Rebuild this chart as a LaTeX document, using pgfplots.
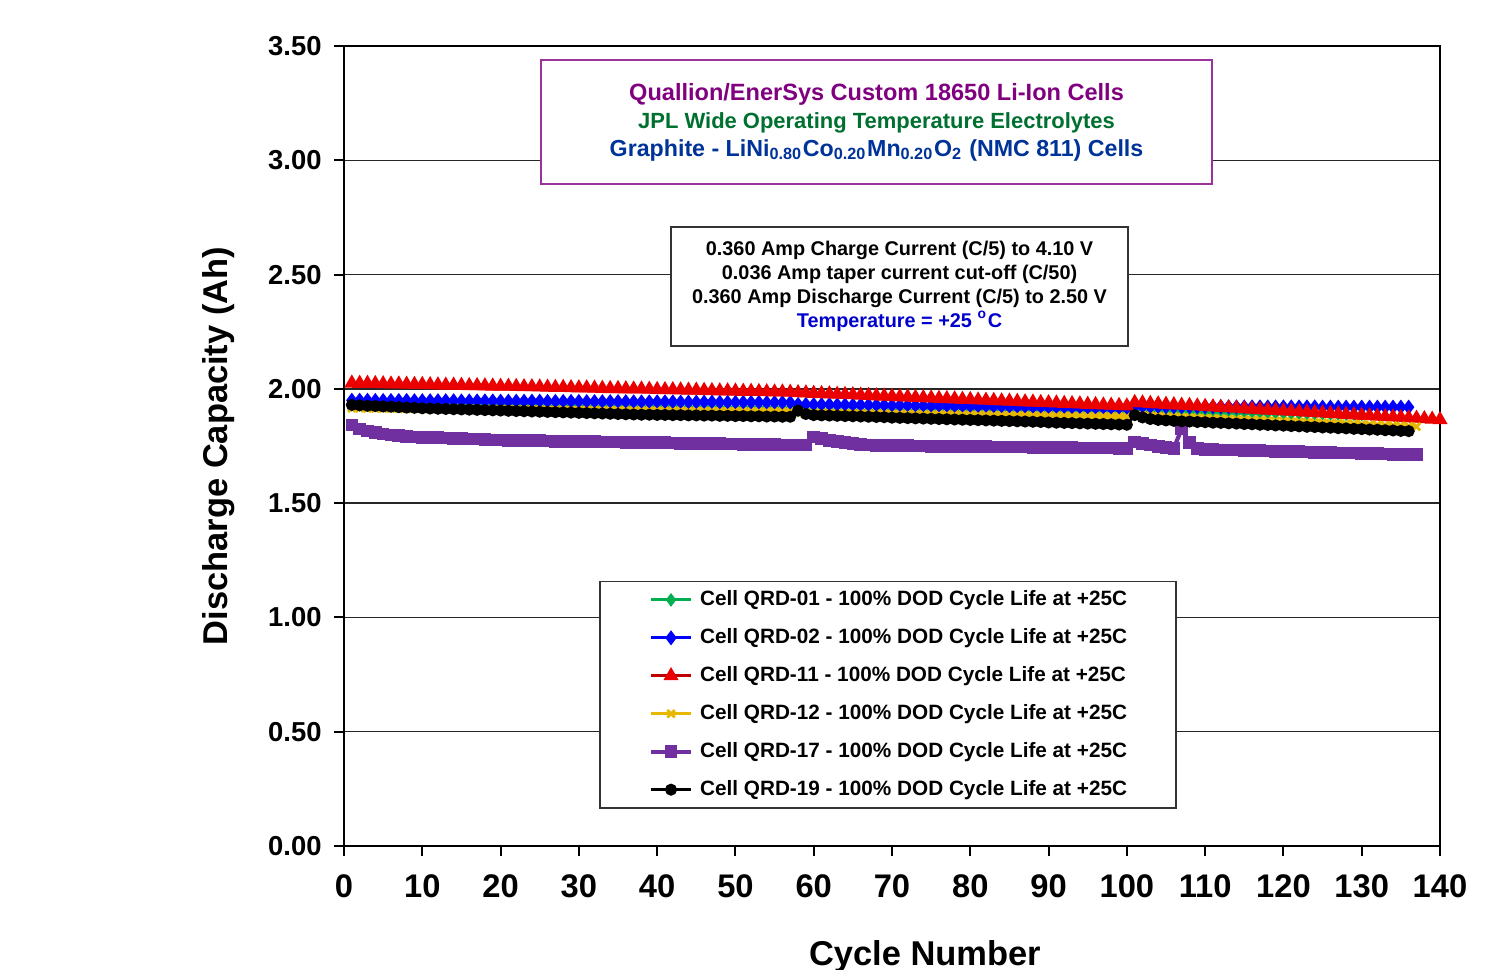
\documentclass[border=0pt]{standalone}
\usepackage{fontspec}
\setmainfont{Liberation Sans}
\usepackage{pgfplots}
\pgfplotsset{compat=1.18}
\usepackage{pgfplotstable}

\definecolor{cgreen}{RGB}{0,176,80}
\definecolor{cblue}{RGB}{0,0,255}
\definecolor{cred}{RGB}{235,0,0}
\definecolor{cdred}{RGB}{192,0,0}
\definecolor{cyellow}{RGB}{230,184,0}
\definecolor{cpurple}{RGB}{112,48,160}
\definecolor{tpurple}{RGB}{128,0,128}
\definecolor{tgreen}{RGB}{0,112,48}
\definecolor{tblue}{RGB}{0,51,153}
\definecolor{tbox}{RGB}{153,51,153}
\definecolor{ttemp}{RGB}{0,0,204}

% cycle, QRD-01, QRD-02, QRD-11, QRD-12, QRD-17, QRD-19
\pgfplotstableread{
x G B R Y P K
1 1.930 1.950 2.025 1.915 1.842 1.930
2 1.930 1.950 2.024 1.915 1.825 1.928
3 1.929 1.950 2.024 1.914 1.815 1.926
4 1.929 1.949 2.023 1.914 1.808 1.925
5 1.929 1.949 2.022 1.914 1.802 1.923
6 1.929 1.949 2.021 1.914 1.798 1.922
7 1.928 1.949 2.021 1.913 1.795 1.920
8 1.928 1.949 2.020 1.913 1.792 1.918
9 1.928 1.948 2.019 1.913 1.790 1.917
10 1.928 1.948 2.019 1.913 1.788 1.915
11 1.927 1.948 2.018 1.912 1.787 1.914
12 1.927 1.948 2.017 1.912 1.786 1.913
13 1.927 1.948 2.016 1.912 1.785 1.912
14 1.927 1.948 2.016 1.912 1.783 1.911
15 1.926 1.947 2.015 1.911 1.782 1.910
16 1.926 1.947 2.014 1.911 1.781 1.909
17 1.926 1.947 2.014 1.911 1.780 1.908
18 1.925 1.947 2.013 1.910 1.779 1.907
19 1.925 1.947 2.012 1.910 1.777 1.906
20 1.925 1.946 2.011 1.910 1.776 1.905
21 1.925 1.946 2.011 1.910 1.775 1.904
22 1.924 1.946 2.010 1.909 1.774 1.903
23 1.924 1.946 2.009 1.909 1.774 1.902
24 1.924 1.946 2.009 1.909 1.773 1.901
25 1.924 1.946 2.008 1.909 1.773 1.900
26 1.923 1.945 2.007 1.908 1.772 1.899
27 1.923 1.945 2.006 1.908 1.771 1.898
28 1.923 1.945 2.006 1.908 1.771 1.897
29 1.922 1.945 2.005 1.907 1.770 1.896
30 1.922 1.945 2.004 1.907 1.770 1.895
31 1.922 1.944 2.004 1.907 1.769 1.894
32 1.922 1.944 2.003 1.907 1.769 1.893
33 1.921 1.944 2.002 1.906 1.768 1.892
34 1.921 1.944 2.001 1.906 1.767 1.891
35 1.921 1.944 2.001 1.906 1.767 1.890
36 1.921 1.944 2.000 1.906 1.766 1.889
37 1.920 1.943 1.999 1.905 1.766 1.888
38 1.920 1.943 1.999 1.905 1.765 1.887
39 1.920 1.943 1.998 1.905 1.765 1.887
40 1.920 1.943 1.997 1.905 1.764 1.886
41 1.919 1.943 1.996 1.904 1.764 1.886
42 1.919 1.943 1.996 1.904 1.763 1.885
43 1.919 1.942 1.995 1.904 1.762 1.885
44 1.918 1.942 1.994 1.903 1.762 1.884
45 1.918 1.942 1.994 1.903 1.761 1.884
46 1.918 1.942 1.993 1.903 1.761 1.883
47 1.918 1.942 1.992 1.903 1.760 1.883
48 1.917 1.941 1.991 1.902 1.760 1.882
49 1.917 1.941 1.991 1.902 1.759 1.882
50 1.917 1.941 1.990 1.902 1.759 1.881
51 1.917 1.941 1.989 1.902 1.758 1.881
52 1.916 1.941 1.989 1.901 1.757 1.880
53 1.916 1.941 1.988 1.901 1.757 1.880
54 1.916 1.940 1.987 1.901 1.756 1.879
55 1.916 1.940 1.986 1.901 1.756 1.879
56 1.915 1.940 1.986 1.900 1.755 1.878
57 1.915 1.940 1.985 1.900 1.755 1.878
58 1.905 1.932 1.983 1.895 1.755 1.905
59 1.905 1.932 1.982 1.895 1.755 1.890
60 1.905 1.931 1.980 1.894 1.790 1.885
61 1.905 1.931 1.979 1.894 1.783 1.884
62 1.905 1.931 1.978 1.894 1.775 1.883
63 1.905 1.930 1.976 1.893 1.770 1.882
64 1.904 1.930 1.975 1.893 1.766 1.881
65 1.904 1.929 1.974 1.892 1.762 1.880
66 1.904 1.929 1.972 1.892 1.758 1.879
67 1.904 1.929 1.971 1.892 1.755 1.878
68 1.904 1.928 1.969 1.891 1.752 1.877
69 1.904 1.928 1.968 1.891 1.752 1.876
70 1.903 1.927 1.967 1.890 1.751 1.874
71 1.903 1.927 1.965 1.890 1.751 1.873
72 1.903 1.927 1.964 1.890 1.751 1.872
73 1.903 1.926 1.962 1.889 1.750 1.871
74 1.903 1.926 1.961 1.889 1.750 1.870
75 1.903 1.925 1.960 1.888 1.749 1.869
76 1.902 1.925 1.958 1.888 1.749 1.868
77 1.902 1.925 1.957 1.888 1.749 1.867
78 1.902 1.924 1.956 1.887 1.748 1.866
79 1.902 1.924 1.954 1.887 1.748 1.865
80 1.902 1.923 1.953 1.886 1.748 1.864
81 1.902 1.923 1.951 1.886 1.747 1.863
82 1.901 1.923 1.950 1.886 1.747 1.862
83 1.901 1.922 1.949 1.885 1.746 1.861
84 1.901 1.922 1.947 1.885 1.746 1.860
85 1.901 1.921 1.946 1.884 1.746 1.859
86 1.901 1.921 1.945 1.884 1.745 1.858
87 1.901 1.921 1.943 1.884 1.745 1.857
88 1.900 1.920 1.942 1.883 1.744 1.856
89 1.900 1.920 1.940 1.883 1.744 1.855
90 1.900 1.919 1.939 1.882 1.744 1.853
91 1.900 1.919 1.938 1.882 1.743 1.852
92 1.900 1.919 1.936 1.882 1.743 1.851
93 1.900 1.918 1.935 1.881 1.743 1.850
94 1.899 1.918 1.934 1.881 1.742 1.849
95 1.899 1.917 1.932 1.880 1.742 1.848
96 1.899 1.917 1.931 1.880 1.741 1.847
97 1.899 1.917 1.929 1.880 1.741 1.846
98 1.899 1.916 1.928 1.879 1.741 1.845
99 1.899 1.916 1.927 1.879 1.740 1.844
100 1.898 1.915 1.925 1.878 1.740 1.843
101 1.902 1.922 1.940 1.885 1.768 1.885
102 1.902 1.922 1.938 1.884 1.760 1.875
103 1.901 1.922 1.936 1.882 1.754 1.868
104 1.901 1.922 1.934 1.881 1.748 1.864
105 1.900 1.922 1.932 1.879 1.744 1.862
106 1.900 1.922 1.930 1.878 1.740 1.860
107 1.899 1.922 1.928 1.877 1.825 1.858
108 1.899 1.922 1.927 1.875 1.765 1.857
109 1.898 1.922 1.925 1.874 1.738 1.855
110 1.898 1.922 1.923 1.872 1.735 1.854
111 1.897 1.922 1.921 1.871 1.734 1.852
112 1.897 1.922 1.919 1.870 1.733 1.851
113 1.896 1.921 1.917 1.868 1.732 1.849
114 1.896 1.921 1.915 1.867 1.732 1.848
115 1.895 1.921 1.913 1.866 1.731 1.846
116 1.895 1.921 1.911 1.864 1.730 1.845
117 1.894 1.921 1.909 1.863 1.729 1.843
118 1.894 1.921 1.907 1.861 1.728 1.842
119 1.894 1.921 1.905 1.860 1.727 1.840
120 1.893 1.921 1.903 1.859 1.726 1.839
121 1.893 1.921 1.902 1.857 1.726 1.837
122 1.892 1.921 1.900 1.856 1.725 1.836
123 1.892 1.921 1.898 1.854 1.724 1.834
124 1.891 1.921 1.896 1.853 1.723 1.833
125 1.891 1.920 1.894 1.852 1.722 1.831
126 1.890 1.920 1.892 1.850 1.721 1.830
127 1.890 1.920 1.890 1.849 1.720 1.828
128 1.889 1.920 1.888 1.847 1.719 1.827
129 1.889 1.920 1.886 1.846 1.719 1.825
130 1.888 1.920 1.884 1.845 1.718 1.824
131 nan 1.920 1.882 1.843 1.717 1.822
132 nan 1.920 1.880 1.842 1.716 1.821
133 nan 1.920 1.878 1.840 1.715 1.819
134 nan 1.920 1.877 1.839 1.714 1.818
135 nan 1.920 1.875 1.838 1.714 1.816
136 nan 1.920 1.873 1.836 1.713 1.815
137 nan nan 1.871 1.835 1.712 nan
138 nan nan 1.869 nan nan nan
139 nan nan 1.867 nan nan nan
140 nan nan 1.865 nan nan nan
}\cells

\begin{document}
\begin{tikzpicture}
\path[use as bounding box] (0,0) rectangle (150.3mm,96.9mm);
\begin{axis}[
  at={(34.4mm,12.3mm)}, anchor=south west,
  width=109.6mm, height=80mm, scale only axis,
  xmin=0, xmax=140, ymin=0, ymax=3.5,
  xtick distance=10, ytick distance=0.5,
  xtick pos=bottom, ytick pos=left,
  tick align=outside, major tick length=1mm,
  scaled y ticks=false,
  /pgf/number format/assume math mode=true,
  x tick label style={font=\bfseries\fontsize{9.3}{10}\selectfont, yshift=-0.6mm},
  y tick label style={font=\bfseries\fontsize{7.8}{9}\selectfont,
    /pgf/number format/fixed, /pgf/number format/fixed zerofill,
    /pgf/number format/precision=2},
  ymajorgrids, grid style={black!85, line width=0.4pt},
  axis line style={line width=0.7pt},
  tick style={black, line width=0.6pt},
  xlabel={Cycle Number}, ylabel={Discharge Capacity (Ah)},
  label style={font=\bfseries\fontsize{9.8}{11}\selectfont},
  xlabel style={at={(axis description cs:0.53,-0.149)}, anchor=base},
  ylabel style={at={(axis description cs:-0.106,0.5)}, anchor=base},
  clip mode=individual,
  legend cell align=left,
  legend image code/.code={\draw[mark repeat=2,mark phase=2,#1] plot coordinates {(0mm,0mm) (2mm,0mm) (4mm,0mm)};},
  legend style={at={(rel axis cs:0.2327,0.04625)}, anchor=south west,
    draw=black!80, line width=0.5pt, inner xsep=4.9mm, inner ysep=2.5pt,
    row sep=5.3pt,
    font=\bfseries\fontsize{5.9}{7}\selectfont,
    nodes={inner xsep=0pt, inner ysep=0pt, text height=4.3pt, text depth=1.2pt},
    /tikz/every odd column/.append style={column sep=0.7mm}},
]
\addplot[cgreen, line width=0.8pt, mark=diamond*, mark size=1.3pt] table[x=x,y=G] {\cells};
\addlegendentry{Cell QRD-01 - 100\% DOD Cycle Life at +25C}
\addplot[cblue, line width=0.8pt, mark=diamond*, mark size=1.5pt] table[x=x,y=B] {\cells};
\addlegendentry{Cell QRD-02 - 100\% DOD Cycle Life at +25C}
\addplot[cdred, line width=0.8pt, mark=triangle*, mark size=1.7pt, mark options={draw=cred, fill=cred}] table[x=x,y=R] {\cells};
\addlegendentry{Cell QRD-11 - 100\% DOD Cycle Life at +25C}
\addplot[cyellow, line width=0.8pt, mark=x, mark size=1.5pt] table[x=x,y=Y] {\cells};
\addlegendentry{Cell QRD-12 - 100\% DOD Cycle Life at +25C}
\addplot[cpurple, line width=1.2pt, mark=square*, mark size=1.2pt] table[x=x,y=P] {\cells};
\addlegendentry{Cell QRD-17 - 100\% DOD Cycle Life at +25C}
\addplot[black, line width=0.8pt, mark=*, mark size=1.3pt] table[x=x,y=K] {\cells};
\addlegendentry{Cell QRD-19 - 100\% DOD Cycle Life at +25C}

\node[draw=tbox, line width=0.5pt, fill=white, minimum width=67.1mm, minimum height=12.4mm,
  align=center, font=\bfseries\fontsize{6.7}{7.97}\selectfont]
  at (rel axis cs:0.4859,0.905)
  {\textcolor{tpurple}{Quallion/EnerSys Custom 18650 Li-Ion Cells}\\
   \textcolor{tgreen}{\fontsize{6.25}{7.97}\selectfont JPL Wide Operating Temperature Electrolytes}\\
   \textcolor{tblue}{\fontsize{6.6}{7.97}\selectfont Graphite - LiNi\textsubscript{0.80}Co\textsubscript{0.20}Mn\textsubscript{0.20}O\textsubscript{2} (NMC 811) Cells}};
\node[draw=black!80, line width=0.5pt, fill=white, minimum width=45.7mm, minimum height=11.9mm,
  align=center, font=\bfseries\fontsize{5.65}{6.83}\selectfont]
  at (rel axis cs:0.5069,0.6995)
  {0.360 Amp Charge Current (C/5) to 4.10 V\\
   0.036 Amp taper current cut-off (C/50)\\
   0.360 Amp Discharge Current (C/5) to 2.50 V\\
   \textcolor{ttemp}{Temperature = +25 \textsuperscript{o}C}};
\end{axis}
\end{tikzpicture}
\end{document}
